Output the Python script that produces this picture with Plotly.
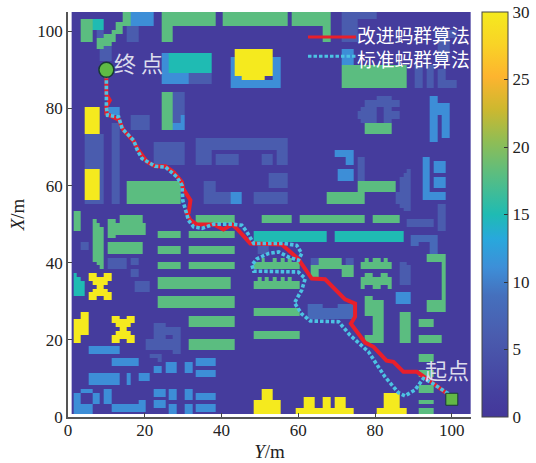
import plotly.graph_objects as go

# Building footprints by height: (col_start, col_end, row_start, row_end)
height_30 = [
    (43,53,88,95),(45,51,87,88),(4,8,73,80),(4,8,56,64),
    (5,7,35,37),(9,11,35,37),(7,9,35,36),(6,10,34,35),(7,9,33,34),(6,10,32,33),(5,7,30,32),(9,11,30,32),(7,9,31,32),
    (11,13,24,26),(15,17,24,26),(13,15,24,25),(12,16,23,24),(13,15,22,23),(12,16,21,22),(11,13,19,21),(15,17,19,21),(13,15,20,21),
    (1,3,19,25),(3,5,21,27),
    (48,55,0,4),(50,53,4,7),(59,74,0,2),(61,64,2,5),(66,68,2,5),(69,72,2,5),(82,86,2,6),(80,88,0,2),
]
height_18 = [
    (3,6,97,103),(7,9,95,98),(9,11,96,99),(11,12,97,100),(12,14,99,102),(14,16,101,105),
    (24,38,101,105),(24,27,97,101),(40,57,101,105),(58,66,101,105),(66,68,97,105),
    (24,27,74,84),(15,29,55,61),(71,88,85,91),(77,84,73,76),
    (75,85,58,61),(67,77,55,58),
    (33,43,50,52),(50,58,50,52),(60,77,50,52),(79,86,50,52),
    (1,3,48,53),(6,7,40,51),(7,8,39,50),(8,9,38,49),(10,12,46,51),(12,20,47,50),(13,19,50,52),(10,19,42,45),
    (23,29,46,48),(31,43,46,48),(23,29,42,44),(31,43,42,44),(23,29,38,40),(31,43,38,40),
    (23,42,33,36),(23,43,28,31),(31,43,23,26),(31,43,17,20),
    (48,60,26,28),(48,60,20,22),(48,60,33,35),(49,50,35,36),(51,52,35,36),(53,54,35,36),(55,56,35,36),(57,58,35,36),
    (48,60,38,40),(50,51,40,41),(53,54,40,41),(55,56,40,41),(57,58,40,41),
    (93,98,40,42),(97,98,30,40),(93,98,27,30),
    (65,71,38,41),(63,65,36,39),(71,74,36,39),
    (76,84,38,40),(77,78,40,41),(79,81,40,41),(82,83,40,41),
    (76,84,34,36),(76,77,33,34),(79,81,33,34),(83,84,33,34),(77,79,36,37),(81,83,36,37),
    (77,79,26,31),(79,82,19,30),(77,79,19,21),(86,89,19,27),
    (91,95,23,25),(91,97,19,21),(91,95,14,16),(91,95,10,12),(91,95,6,8),(91,95,3,4),(91,95,0,2),
]
height_15 = [
    (6,9,100,103),(26,37,89,94),(48,67,45,48),(69,87,45,48),
    (1,2,31,37),(2,3,31,36),(3,4,31,35),
]
height_11 = [
    (16,22,101,105),(24,26,86,94),(24,31,86,89),(42,45,85,93),(45,55,85,87),(53,55,87,93),
    (27,30,74,76),(29,30,76,78),(10,13,78,80),(42,45,55,58),
    (71,74,91,95),(94,96,71,83),(96,99,78,81),(97,99,72,78),
    (69,74,67,69),(72,74,65,67),(70,74,61,64),
    (92,94,56,67),(94,98,56,58),(95,98,63,66),(95,98,59,62),(85,89,29,32),
    (5,13,16,18),(11,18,13,15),(22,24,11,13),(25,28,11,14),(30,32,11,14),(33,38,13,15),(33,38,10,12),
    (5,13,8,11),(15,16,8,11),(18,21,9,11),
    (1,3,0,6),(3,6,6,7),(6,8,3,6),(1,6,0,3),(9,11,3,7),(11,20,1,3),(18,20,3,4),
    (22,25,5,7),(22,25,2,4),(26,28,4,7),(26,28,0,3),(30,32,4,7),(30,32,0,3),(33,38,4,6),(33,38,1,3),
]
height_8 = [
    (89,91,44,47),(91,96,45,47),(94,96,42,45),
    (62,74,25,28),(62,66,28,29),(70,74,28,29),
]
height_6 = [
    (7,9,98,100),(15,18,97,101),(8,11,92,96),(31,37,86,89),(27,30,76,84),
    (4,9,55,73),(11,13,55,76),(16,21,74,78),(22,30,65,71),
    (33,57,69,72),(33,37,65,69),(38,44,65,68),(50,53,65,68),(54,57,65,69),
    (35,38,55,61),(38,42,55,58),(48,57,55,58),(52,57,59,63),
    (71,80,103,105),(71,75,97,103),(96,99,92,98),(96,101,98,100),
    (90,92,85,91),(93,95,85,91),(96,98,85,90),(98,101,85,87),
    (80,84,80,83),(77,86,80,82),(75,80,77,79),(76,80,76,80),(82,86,77,79),(82,84,76,80),
    (75,77,61,67),(88,89,53,64),(87,88,53,63),(86,87,54,62),(85,86,55,58),
    (96,98,48,55),(88,95,49,51),
    (63,65,39,41),(72,74,39,41),(86,88,34,40),(88,89,34,39),
    (49,52,42,44),(3,5,43,45),(10,15,38,41),(16,18,39,41),(16,18,36,38),(17,21,32,35),
    (22,25,20,24),(25,29,21,23),(27,29,16,21),(20,27,17,20),(21,24,15,16),(23,24,14,15),
]
building_layers = [(6,height_6),(8,height_8),(11,height_11),(15,height_15),(18,height_18),(30,height_30)]
ground_height = 1

improved_x = [100,98.7,93.9,90.9,87.4,84.8,83,79.6,77.4,75.3,73.7,74.8,74.8,72.2,67,63.5,60.9,60,55.7,50,47.5,44,42.7,40.5,38,33.6,31.9,30.6,31.4,31.9,30,29.7,27.5,25.4,22.7,20.6,18.4,17.1,14.5,13.2,10,10,10.9,10,10]
improved_y = [5,6.1,9.6,11.7,11.7,14.3,14.6,18.2,19.3,22,24.2,26,29.4,30.5,35.7,35.9,39.8,41,44.7,44.8,45,48.8,49.9,48.6,49.9,49.9,51,53.6,52.7,56.2,59.2,60.9,63.5,65,65,66.1,69.1,71.5,74.3,77.1,78.6,80.5,82.1,83.6,90]
standard_x = [100,99,94.4,92.6,90.4,87.8,86.1,82.6,80,78.3,73.5,70.5,63.1,60.9,59,60.9,61.8,60,50,48.4,47.9,49.2,52.3,54.9,57.4,60,60.9,59.6,56.2,50,48.4,46.6,45.3,42.7,38,34.9,32.7,31.4,30.6,29.9,29.7,28.4,25.4,22.7,19.3,18.1,17.1,14.1,13.2,10.3,10,10]
standard_y = [5,6.1,9.1,10,7,5.5,6.3,10.4,14.3,16.9,21.2,24.7,24.9,26.7,29.6,32.9,35.9,37.6,37.8,37.8,39.4,41,42.4,42.8,41.5,40.6,42.4,44.5,45,45,45,48,49.7,50,50,48.9,49.3,51,53.6,56.2,60.1,62.2,64.8,65,67,69.1,71.7,74.8,77.8,78.2,80.4,90]
start_point = ([100],[4.6])
goal_point = ([10],[90])
series_names = ["改进蚂群算法","标准蚂群算法"]
axis_ticks = [0,20,40,60,80,100]
colorbar_ticks = [0,5,10,15,20,25,30]

x_edges = [0.95]+[k+0.35 for k in range(1,105)]+[105]
y_edges = [0.8]+[k+0.3 for k in range(1,105)]+[105]
grid = [[ground_height]*(len(x_edges)-1) for _ in range(len(y_edges)-1)]
for h,rects in building_layers:
    for x0,x1,y0,y1 in rects:
        for r in range(y0,min(y1,len(grid))):
            for c in range(x0,min(x1,len(grid[0]))):
                grid[r][c]=h

parula = [
    [0,"#44379a"],[0.06,"#45409f"],[0.2,"#4a5cae"],[0.3,"#4570bd"],[0.37,"#3d8fd8"],[0.44,"#28a8dc"],
    [0.5,"#1fbbb3"],[0.6,"#5bbd80"],[0.68,"#8fbd55"],[0.76,"#cdb82f"],[0.84,"#fdb42f"],[0.92,"#f9d326"],[1,"#f5ea1e"],
]
serif = "Liberation Serif"
cjk = "Noto Sans CJK SC"
red = "#e81f2b"
cyan = "#4cc3e3"
dots = "3.5px,2px"

fig = go.Figure()
fig.add_trace(go.Heatmap(x=x_edges,y=y_edges,z=grid,zmin=0,zmax=30,colorscale=parula,hoverinfo="skip",showlegend=False,
    colorbar=dict(thickness=26,len=1,lenmode="fraction",x=1.027,xanchor="left",xpad=0,y=0,yanchor="bottom",ypad=0,
        tickvals=colorbar_ticks,ticks="inside",ticklen=4,tickcolor="#333",outlinecolor="#444",outlinewidth=1,
        tickfont=dict(family=serif,size=17,color="#222"))))
fig.add_trace(go.Scatter(x=improved_x,y=improved_y,mode="lines",name=series_names[0],showlegend=False,line=dict(color=red,width=4)))
fig.add_trace(go.Scatter(x=standard_x,y=standard_y,mode="lines",name=series_names[1],showlegend=False,line=dict(color=cyan,width=3.6,dash=dots)))
fig.add_trace(go.Scatter(x=goal_point[0],y=goal_point[1],mode="markers",showlegend=False,
    marker=dict(symbol="circle",size=15,color="#5fbb45",line=dict(color="#173a35",width=1.5))))
fig.add_trace(go.Scatter(x=start_point[0],y=start_point[1],mode="markers",showlegend=False,
    marker=dict(symbol="square",size=12,color="#62b846",line=dict(color="#173a35",width=1))))
fig.add_annotation(x=11.5,y=92,text="终 点",showarrow=False,xanchor="left",yanchor="middle",font=dict(family=cjk,size=22,color="#dcdcec"))
fig.add_annotation(x=105,y=12.4,text="起点",showarrow=False,xanchor="right",yanchor="middle",font=dict(family=cjk,size=22,color="#dcdcec"))
# legend keys and labels, placed in the plot's own fractions
for color,dash,ky in zip([red,cyan],["solid",dots],[0.938,0.891]):
    fig.add_shape(type="line",xref="paper",yref="paper",x0=0.5955,x1=0.7146,y0=ky,y1=ky,line=dict(color=color,width=3,dash=dash))
fig.add_annotation(xref="paper",yref="paper",x=0.713,y=0.916,text="<br>".join(series_names),showarrow=False,xanchor="left",yanchor="middle",align="left",
    font=dict(family=cjk,size=18.8,color="white"))
axis = dict(range=[0,105],tickvals=axis_ticks,ticks="inside",ticklen=4,showgrid=False,zeroline=False,
    showline=True,linecolor="#555",linewidth=1.5,tickcolor="#444",tickfont=dict(family=serif,size=17,color="#222"),
    title_font=dict(family=serif,size=19,color="#222"))
fig.update_xaxes(**axis,title_text="<i>Y</i>/m",title_standoff=6,ticklabelstandoff=-3)
fig.update_yaxes(**axis,title_text="<i>X</i>/m",title_standoff=8)
fig.update_layout(width=536,height=463,margin=dict(l=68,r=65,t=12,b=46,autoexpand=False),plot_bgcolor="white",paper_bgcolor="white",
    showlegend=False)
fig.write_html("out.html",post_script="document.body.style.margin='0';",config=dict(displayModeBar=False))
